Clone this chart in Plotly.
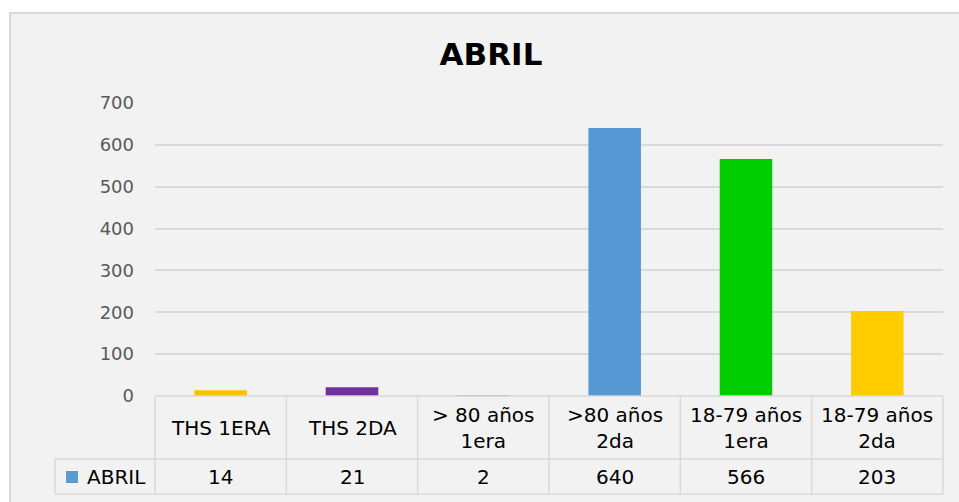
import plotly.graph_objects as go

categories = ["THS 1ERA", "THS 2DA", "> 80 años 1era", ">80 años 2da", "18-79 años 1era", "18-79 años 2da"]
header_labels = ["THS 1ERA", "THS 2DA", "> 80 años<br>1era", ">80 años<br>2da", "18-79 años<br>1era", "18-79 años<br>2da"]
values = [14, 21, 2, 640, 566, 203]
bar_colors = ["#FFC000", "#7030A0", "#5799D7", "#5799D7", "#00CC00", "#FFCC00"]
series_name = "ABRIL"
legend_color = "#5B9BD5"
y_ticks = [0, 100, 200, 300, 400, 500, 600, 700]

W, H = 959, 502
def px_x(p): return p / W
def px_y(p): return 1 - p / H

FONT = "DejaVu Sans"
GRID = "#D9D9D9"

fig = go.Figure()
fig.add_trace(go.Bar(
    x=categories, y=values, marker=dict(color=bar_colors, line=dict(width=0)),
    name=series_name, showlegend=False, hoverinfo="x+y",
))

shapes = []
shapes.append(dict(type="rect", xref="paper", yref="paper", x0=px_x(10), x1=px_x(965), y0=px_y(510), y1=px_y(13),
                   fillcolor="#F2F2F2", line=dict(color=GRID, width=2), layer="below"))
top, mid, bot = px_y(396), px_y(459), px_y(494)
shapes.append(dict(type="line", xref="x domain", yref="paper", x0=0, x1=1, y0=top, y1=top, line=dict(color=GRID, width=1.5)))
for yy in (mid, bot):
    shapes.append(dict(type="line", xref="x domain", yref="paper", x0=-0.127, x1=1, y0=yy, y1=yy, line=dict(color=GRID, width=1.5)))
for xx in (0, 1):
    shapes.append(dict(type="line", xref="x domain", yref="paper", x0=xx, x1=xx, y0=top, y1=bot, line=dict(color=GRID, width=1.5)))
shapes.append(dict(type="line", xref="x domain", yref="paper", x0=-0.127, x1=-0.127, y0=mid, y1=bot, line=dict(color=GRID, width=1.5)))
for i in range(1, len(categories)):
    shapes.append(dict(type="line", xref="x", yref="paper", x0=i - 0.5, x1=i - 0.5, y0=top, y1=bot, line=dict(color=GRID, width=1.5)))
shapes.append(dict(type="rect", xref="paper", yref="paper", x0=px_x(66), x1=px_x(78), y0=px_y(483), y1=px_y(471),
                   fillcolor=legend_color, line=dict(width=0)))

annotations = []
for cat, lab, v in zip(categories, header_labels, values):
    annotations.append(dict(x=cat, xref="x", y=px_y(428), yref="paper", text=lab, showarrow=False,
                            font=dict(family=FONT, size=20, color="#000000"), yanchor="middle", xanchor="center"))
    annotations.append(dict(x=cat, xref="x", y=px_y(477), yref="paper", text=str(v), showarrow=False,
                            font=dict(family=FONT, size=20, color="#000000"), yanchor="middle", xanchor="center"))
annotations.append(dict(x=px_x(85), xref="paper", y=px_y(477), yref="paper", xanchor="left", yanchor="middle",
                        text=series_name, showarrow=False, font=dict(family=FONT, size=20, color="#000000")))

fig.update_layout(
    width=W, height=H, margin=dict(l=0, r=0, t=0, b=0, pad=0, autoexpand=False),
    paper_bgcolor="white", plot_bgcolor="rgba(0,0,0,0)",
    title=dict(text="<b>" + series_name + "</b>", x=px_x(491), y=px_y(54), xanchor="center", yanchor="middle",
               font=dict(family=FONT, size=31, color="#000000")),
    xaxis=dict(domain=[px_x(155), px_x(943)], range=[-0.5, len(categories) - 0.5], showticklabels=False,
               showgrid=False, zeroline=False, showline=False, fixedrange=True, automargin=False),
    yaxis=dict(domain=[px_y(396), px_y(103)], range=[0, 700], tickvals=y_ticks, showgrid=True, gridcolor=GRID,
               gridwidth=1.5, zeroline=False, showline=False, ticklabelstandoff=20, automargin=False,
               tickfont=dict(family=FONT, size=18, color="#595959")),
    bargap=0.6, shapes=shapes, annotations=annotations, font=dict(family=FONT),
)

fig.write_html("out.html", config={"displayModeBar": False},
               post_script="document.body.style.margin='0px';")
